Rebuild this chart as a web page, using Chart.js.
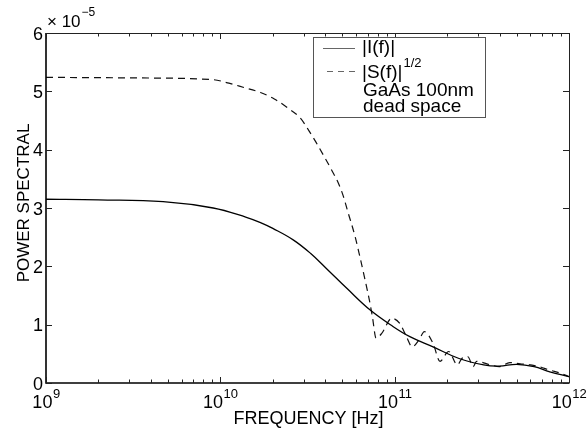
<!DOCTYPE html>
<html>
<head>
<meta charset="utf-8">
<script src="https://cdn.jsdelivr.net/npm/chart.js@4/dist/chart.umd.min.js"></script>
<style>
html,body{margin:0;padding:0;background:#fff;}
#wrap{width:587px;height:429px;}
</style>
</head>
<body>
<div id="wrap"><canvas id="c" width="587" height="429"></canvas></div>
<script>
// ---- data (values in units of 1e-5) ----
const freqI = [1e9, 2e9, 4.7e9, 9.1e9, 1.41e10, 1.7e10, 2e10, 2.63e10, 3.3e10, 4.07e10, 5.37e10, 7.24e10, 9.77e10, 1.23e11, 1.66e11, 2.34e11, 3.24e11, 3.98e11, 5.01e11, 6.31e11, 7.76e11, 1e12];
const valI  = [3.15, 3.14, 3.11, 3.00, 2.84, 2.75, 2.65, 2.45, 2.22, 1.96, 1.61, 1.25, 0.97, 0.79, 0.62, 0.42, 0.31, 0.29, 0.32, 0.28, 0.19, 0.11];

const freqS = [1e9, 3.16e9, 9.1e9, 1.12e10, 1.35e10, 1.7e10, 2.04e10, 2.45e10, 2.88e10, 3.2e10, 3.55e10, 3.98e10, 4.37e10, 4.75e10, 5.08e10, 5.37e10, 5.93e10, 6.31e10, 6.76e10, 7.16e10, 7.45e10, 7.82e10, 8.43e10, 9.62e10, 1.07e11, 1.17e11, 1.26e11, 1.38e11, 1.48e11, 1.66e11, 1.82e11, 2.04e11, 2.29e11, 2.43e11, 2.63e11, 2.82e11, 2.95e11, 3.55e11, 3.98e11, 4.57e11, 5.25e11, 6.03e11, 6.76e11, 7.76e11, 8.91e11, 1e12];
const valS  = [5.24, 5.23, 5.20, 5.14, 5.07, 4.98, 4.87, 4.71, 4.54, 4.34, 4.12, 3.86, 3.64, 3.43, 3.20, 2.95, 2.51, 2.17, 1.77, 1.42, 1.14, 0.77, 0.85, 1.11, 1.02, 0.79, 0.62, 0.74, 0.88, 0.68, 0.37, 0.54, 0.31, 0.42, 0.45, 0.28, 0.37, 0.31, 0.28, 0.35, 0.33, 0.31, 0.28, 0.22, 0.17, 0.11];

const xTickValues = [1e9, 1e10, 1e11, 1e12];
const xTickExponents = ['9', '10', '11', '12'];
const yTickValues = [0, 1, 2, 3, 4, 5, 6];
const yTickLabels = ['0', '1', '2', '3', '4', '5', '6'];
const xTitle = 'FREQUENCY [Hz]';
const yTitle = 'POWER SPECTRAL';
const legendLabels = ['|I(f)|', '|S(f)|', 'GaAs 100nm', 'dead space'];
const legendSup = '1/2';

const FONT = '"Liberation Sans", Arial, Helvetica, sans-serif';

const toPts = (xs, ys) => xs.map((x, i) => ({x: x, y: ys[i]}));

const decor = {
  id: 'decor',
  beforeDraw(chart) {
    const ctx = chart.ctx;
    ctx.save();
    ctx.fillStyle = '#fff';
    ctx.fillRect(0, 0, chart.width, chart.height);
    ctx.restore();
  },
  afterDatasetsDraw(chart) {
    const ctx = chart.ctx;
    const {left, right, top, bottom} = chart.chartArea;
    const x = chart.scales.x, y = chart.scales.y;
    ctx.save();
    // frame
    ctx.strokeStyle = '#222';
    ctx.lineWidth = 1;
    ctx.beginPath();
    ctx.moveTo(left + 0.5, top + 0.5); ctx.lineTo(right + 0.5, top + 0.5); ctx.lineTo(right + 0.5, bottom + 0.5);
    ctx.stroke();
    ctx.strokeStyle = '#000';
    ctx.lineWidth = 1.6;
    ctx.beginPath();
    ctx.moveTo(left, top); ctx.lineTo(left, bottom); ctx.lineTo(right, bottom);
    ctx.stroke();

    // ticks
    ctx.lineWidth = 1;
    ctx.strokeStyle = '#222';
    ctx.beginPath();
    for (let d = 0; d < xTickValues.length; d++) {
      const base = xTickValues[d];
      const px = Math.round(x.getPixelForValue(base)) + 0.5;
      ctx.moveTo(px, bottom); ctx.lineTo(px, bottom - 6);
      ctx.moveTo(px, top); ctx.lineTo(px, top + 6);
      if (d < xTickValues.length - 1) {
        for (let k = 2; k <= 9; k++) {
          const mx = Math.round(x.getPixelForValue(base * k)) + 0.5;
          ctx.moveTo(mx, bottom); ctx.lineTo(mx, bottom - 3.5);
          ctx.moveTo(mx, top); ctx.lineTo(mx, top + 3.5);
        }
      }
    }
    for (const v of yTickValues) {
      const py = Math.round(y.getPixelForValue(v)) + 0.5;
      ctx.moveTo(left, py); ctx.lineTo(left + 6, py);
      ctx.moveTo(right, py); ctx.lineTo(right - 6, py);
    }
    ctx.stroke();

    // tick labels
    ctx.fillStyle = '#000';
    ctx.textBaseline = 'alphabetic';
    ctx.font = '18px ' + FONT;
    ctx.textAlign = 'right';
    yTickValues.forEach((v, i) => {
      const py = y.getPixelForValue(v);
      ctx.fillText(yTickLabels[i], left - 3, py + 6.5);
    });
    xTickValues.forEach((v, i) => {
      const px = x.getPixelForValue(v);
      ctx.font = '18px ' + FONT;
      const w1 = ctx.measureText('10').width;
      ctx.font = '13px ' + FONT;
      const w2 = ctx.measureText(xTickExponents[i]).width;
      const start = px - (w1 + w2) / 2;
      ctx.textAlign = 'left';
      ctx.font = '18px ' + FONT;
      ctx.fillText('10', start, bottom + 25);
      ctx.font = '13px ' + FONT;
      ctx.fillText(xTickExponents[i], start + w1 + 0.5, bottom + 15);
    });
    // multiplier
    ctx.textAlign = 'left';
    ctx.font = '17px ' + FONT;
    ctx.fillText('\u00d7 10', left + 1, top - 6);
    const wm = ctx.measureText('\u00d7 10').width;
    ctx.font = '12px ' + FONT;
    ctx.fillText('\u22125', left + 2 + wm, top - 17);

    // axis titles
    ctx.font = '18px ' + FONT;
    ctx.textAlign = 'center';
    ctx.fillText(xTitle, (left + right) / 2 + 1, bottom + 41);
    ctx.save();
    ctx.translate(29, (top + bottom) / 2 - 5);
    ctx.rotate(-Math.PI / 2);
    ctx.font = '17px ' + FONT;
    ctx.fillText(yTitle, 0, 0);
    ctx.restore();

    // legend
    const lx = 313, ly = 37, lw = 172, lh = 80;
    ctx.fillStyle = '#fff';
    ctx.fillRect(lx, ly, lw, lh);
    ctx.strokeStyle = '#555';
    ctx.lineWidth = 1;
    ctx.strokeRect(lx + 0.5, ly + 0.5, lw, lh);
    ctx.strokeStyle = '#666';
    ctx.beginPath();
    ctx.moveTo(323, 48.5); ctx.lineTo(355, 48.5);
    ctx.stroke();
    ctx.setLineDash([6, 5]);
    ctx.beginPath();
    ctx.moveTo(327, 71.5); ctx.lineTo(355, 71.5);
    ctx.stroke();
    ctx.setLineDash([]);
    ctx.fillStyle = '#000';
    ctx.textAlign = 'left';
    ctx.font = '19px ' + FONT;
    ctx.fillText(legendLabels[0], 362, 53);
    ctx.fillText(legendLabels[1], 362, 78);
    const ws = ctx.measureText(legendLabels[1]).width;
    ctx.font = '13px ' + FONT;
    ctx.fillText(legendSup, 363 + ws, 67);
    ctx.font = '19px ' + FONT;
    ctx.fillText(legendLabels[2], 363, 96);
    ctx.fillText(legendLabels[3], 363, 112);
    ctx.restore();
  }
};

new Chart(document.getElementById('c'), {
  type: 'line',
  data: {
    datasets: [
      {
        label: '|I(f)|',
        data: toPts(freqI, valI),
        borderColor: '#000',
        borderWidth: 1.3,
        pointRadius: 0,
        fill: false,
        tension: 0.4
      },
      {
        label: '|S(f)|^1/2',
        data: toPts(freqS, valS),
        borderColor: '#111',
        borderWidth: 1.2,
        borderDash: [7, 5],
        pointRadius: 0,
        fill: false,
        cubicInterpolationMode: 'monotone'
      }
    ]
  },
  options: {
    responsive: false,
    animation: false,
    devicePixelRatio: 1,
    layout: {padding: {left: 46, top: 33, right: 18, bottom: 46}},
    plugins: {legend: {display: false}, tooltip: {enabled: false}},
    scales: {
      x: {type: 'logarithmic', min: 1e9, max: 1e12, display: false},
      y: {type: 'linear', min: 0, max: 6, display: false, ticks: {stepSize: 1}}
    }
  },
  plugins: [decor]
});
</script>
</body>
</html>
